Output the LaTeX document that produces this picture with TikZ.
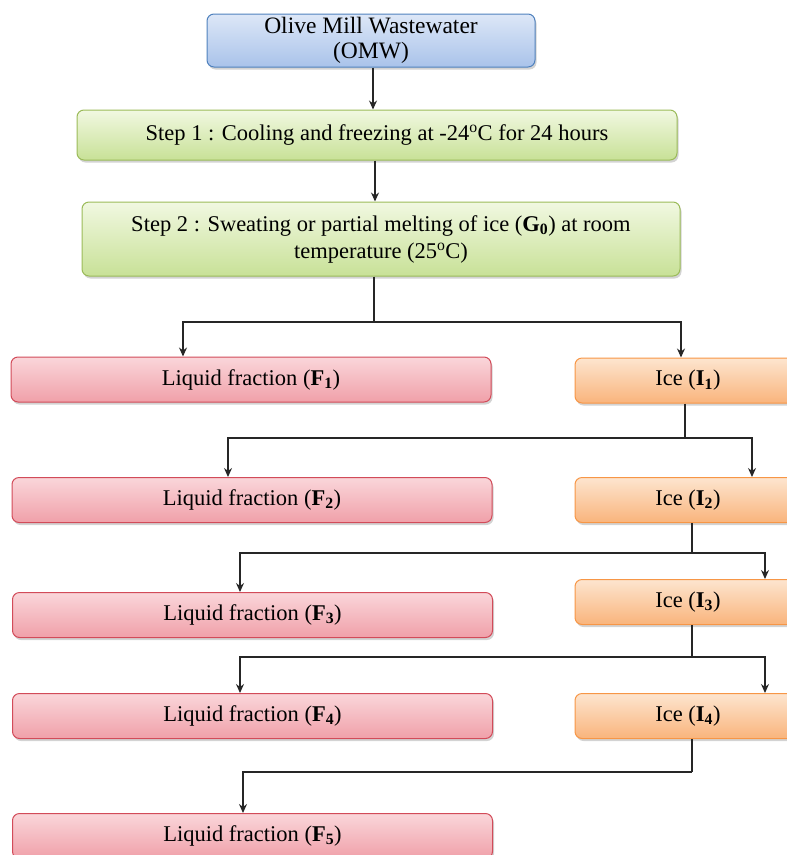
\documentclass[tikz,border=0pt]{standalone}
\usepackage{fontspec}
\setmainfont{Liberation Serif}
\usetikzlibrary{arrows.meta, shadows, positioning}
\definecolor{omwtop}{HTML}{DDE7F7}
\definecolor{omwbot}{HTML}{A9C3EA}
\definecolor{omwline}{HTML}{4F81BD}
\definecolor{steptop}{HTML}{F1F8E1}
\definecolor{stepbot}{HTML}{C8E197}
\definecolor{stepline}{HTML}{9BBB59}
\definecolor{liqtop}{HTML}{FAD6DA}
\definecolor{liqbot}{HTML}{F0A0A9}
\definecolor{liqline}{HTML}{D24B59}
\definecolor{icetop}{HTML}{FDE5CF}
\definecolor{icebot}{HTML}{F9B47C}
\definecolor{iceline}{HTML}{F79646}
\tikzset{
  % scatola di base
  box/.style={rounded corners=7pt, line width=1pt, align=center, inner sep=2pt,
    drop shadow={shadow xshift=1.5pt, shadow yshift=-2.5pt, opacity=0.35}},
  omwbox/.style={box, draw=omwline, top color=omwtop, bottom color=omwbot},
  stepbox/.style={box, draw=stepline, top color=steptop, bottom color=stepbot},
  liqbox/.style={box, draw=liqline, top color=liqtop, bottom color=liqbot,
    minimum width=480pt, minimum height=45pt},
  icebox/.style={box, draw=iceline, top color=icetop, bottom color=icebot,
    minimum width=226pt, minimum height=45pt},
  % collegamenti
  link/.style={line width=1.3pt, black!85},
  arr/.style={link, -{Stealth[length=9pt, width=8pt]}},
}

\begin{document}
\begin{tikzpicture}[x=1pt, y=-1pt, every node/.style={font=\fontsize{22.5}{27}\selectfont}]
  \clip (0,0) rectangle (787,855);
  % processo
  \node[omwbox, minimum width=328pt, minimum height=53pt,
    font=\fontsize{23.5}{25}\selectfont] (omw) at (371,40.5)
    {Olive Mill Wastewater\\(OMW)};
  \node[stepbox, minimum width=600pt, minimum height=50pt] (s1) at (377,135)
    {Step 1 : Cooling and freezing at -24\textsuperscript{o}C for 24 hours};
  \node[stepbox, minimum width=598pt, minimum height=74pt] (s2) at (381,239)
    {Step 2 : Sweating or partial melting of ice (\textbf{G\textsubscript{0}}) at room\\
     temperature (25\textsuperscript{o}C)};
  % frazioni liquide
  \node[liqbox] (f1) at (251,379.5) {Liquid fraction (\textbf{F\textsubscript{1}})};
  \node[liqbox] (f2) at (252,500) {Liquid fraction (\textbf{F\textsubscript{2}})};
  \node[liqbox] (f3) at (252.5,615) {Liquid fraction (\textbf{F\textsubscript{3}})};
  \node[liqbox] (f4) at (252.5,716) {Liquid fraction (\textbf{F\textsubscript{4}})};
  \node[liqbox] (f5) at (252.5,836) {Liquid fraction (\textbf{F\textsubscript{5}})};
  % ghiaccio
  \node[icebox] (i1) at (688,380.5) {Ice (\textbf{I\textsubscript{1}})};
  \node[icebox] (i2) at (688,500) {Ice (\textbf{I\textsubscript{2}})};
  \node[icebox] (i3) at (688,602) {Ice (\textbf{I\textsubscript{3}})};
  \node[icebox] (i4) at (688,716) {Ice (\textbf{I\textsubscript{4}})};
  % punti di diramazione
  \coordinate (b0) at (374,322);
  \coordinate (b1) at (685,438);
  \coordinate (b2) at (692,553);
  \coordinate (b3) at (692,657);
  \coordinate (b4) at (692,772);
  % frecce
  \draw[arr] (omw.south -| 373,0) -- (s1.north -| 373,0);
  \draw[arr] (s1.south -| 375,0) -- (s2.north -| 375,0);
  \draw[link] (s2.south -| b0) -- (b0);
  \draw[arr] (b0) -| ([xshift=-68pt]f1.north);
  \draw[arr] (b0) -| ([xshift=-7pt]i1.north);
  \draw[link] (i1.south -| b1) -- (b1);
  \draw[arr] (b1) -| ([xshift=-24pt]f2.north);
  \draw[arr] (b1) -| ([xshift=64pt]i2.north);
  \draw[link] (i2.south -| b2) -- (b2);
  \draw[arr] (b2) -| ([xshift=-12.5pt]f3.north);
  \draw[arr] (b2) -| ([xshift=77pt]i3.north);
  \draw[link] (i3.south -| b3) -- (b3);
  \draw[arr] (b3) -| ([xshift=-12.5pt]f4.north);
  \draw[arr] (b3) -| ([xshift=77pt]i4.north);
  \draw[link] (i4.south -| b4) -- (b4);
  \draw[arr] (b4) -| ([xshift=-9.5pt]f5.north);
\end{tikzpicture}
\end{document}
